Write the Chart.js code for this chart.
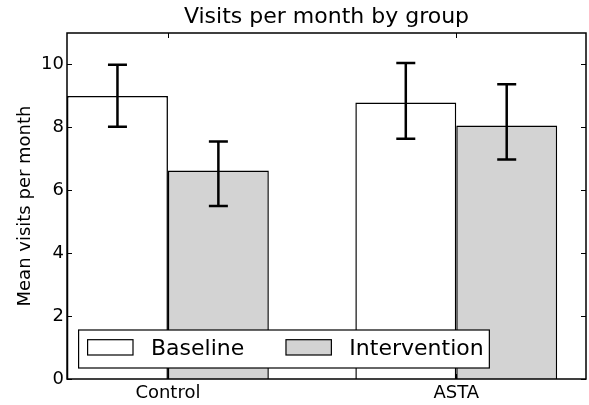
<!DOCTYPE html>
<html>
<head>
<meta charset="utf-8">
<script src="https://cdn.jsdelivr.net/npm/chart.js@4.4.1/dist/chart.umd.min.js"></script>
<style>
  body { margin: 0; background: #fff; }
</style>
</head>
<body>
<canvas id="grafico" width="589" height="405"></canvas>
<script>
const categories = ['Control', 'ASTA'];
const baseline = [9.0, 8.79];
const baselineLow = [8.02, 7.64];
const baselineHigh = [9.99, 10.05];
const intervention = [6.63, 8.06];
const interventionLow = [5.50, 6.98];
const interventionHigh = [7.55, 9.37];
const yTicks = [0, 2, 4, 6, 8, 10];

Chart.defaults.font.family = "'DejaVu Sans', sans-serif";
Chart.defaults.color = '#000';

function points(values) {
    return values.map((v, i) => ({x: i, y: v}));
}

// error bars from the low/high arrays of each dataset
const errorBars = {
    id: 'errorBars',
    afterDatasetsDraw(chart) {
        const ctx = chart.ctx;
        const y = chart.scales.y;
        ctx.save();
        ctx.strokeStyle = '#000';
        ctx.lineWidth = 2.5;
        chart.data.datasets.forEach((ds, d) => {
            chart.getDatasetMeta(d).data.forEach((bar, i) => {
                const lo = y.getPixelForValue(ds.low[i]);
                const hi = y.getPixelForValue(ds.high[i]);
                ctx.beginPath();
                ctx.moveTo(bar.x, lo); ctx.lineTo(bar.x, hi);
                ctx.moveTo(bar.x - 9.5, lo); ctx.lineTo(bar.x + 9.5, lo);
                ctx.moveTo(bar.x - 9.5, hi); ctx.lineTo(bar.x + 9.5, hi);
                ctx.stroke();
            });
        });
        ctx.restore();
    }
};

// box round the plot with inward ticks
const frame = {
    id: 'frame',
    afterDatasetsDraw(chart) {
        const ctx = chart.ctx;
        const a = chart.chartArea;
        const xs = chart.scales.x, ys = chart.scales.y;
        ctx.save();
        ctx.strokeStyle = '#000';
        ctx.lineWidth = 1.5;
        ctx.strokeRect(a.left, a.top, a.right - a.left, a.bottom - a.top);
        ctx.lineWidth = 1;
        ctx.beginPath();
        ys.ticks.forEach(t => {
            const py = Math.round(ys.getPixelForValue(t.value)) + 0.5;
            ctx.moveTo(a.left, py); ctx.lineTo(a.left + 5, py);
            ctx.moveTo(a.right, py); ctx.lineTo(a.right - 5, py);
        });
        xs.ticks.forEach(t => {
            const px = Math.round(xs.getPixelForValue(t.value)) + 0.5;
            ctx.moveTo(px, a.top); ctx.lineTo(px, a.top + 5);
            ctx.moveTo(px, a.bottom); ctx.lineTo(px, a.bottom - 5);
        });
        ctx.stroke();
        ctx.restore();
    }
};

// legend in the lower left corner of the plot
const boxLegend = {
    id: 'boxLegend',
    afterDraw(chart) {
        const ctx = chart.ctx;
        const a = chart.chartArea;
        const sets = chart.data.datasets;
        ctx.save();
        ctx.font = "22px 'DejaVu Sans'";
        const widths = sets.map(ds => ctx.measureText(ds.label).width);
        const w = 9 + (45.4 + 18) * sets.length + widths.reduce((s, v) => s + v, 0) + 41.7 * (sets.length - 1) + 5.7;
        const h = 38;
        const left = a.left + 11.6;
        const top = a.bottom - 11 - h;
        ctx.fillStyle = '#fff';
        ctx.fillRect(left, top, w, h);
        ctx.strokeStyle = '#000';
        ctx.lineWidth = 1.2;
        ctx.strokeRect(left, top, w, h);
        let x = left + 9;
        sets.forEach((ds, i) => {
            ctx.fillStyle = ds.backgroundColor;
            ctx.fillRect(x, top + 9.7, 45.4, 15.3);
            ctx.strokeRect(x, top + 9.7, 45.4, 15.3);
            x += 45.4 + 18;
            ctx.fillStyle = '#000';
            ctx.textBaseline = 'alphabetic';
            ctx.fillText(ds.label, x, top + 25);
            x += widths[i] + 41.7;
        });
        ctx.restore();
    }
};

let graficaVisitas = document.getElementById('grafico').getContext('2d');
let parametrosVisitas = {
    type: 'bar',
    data: {
        datasets: [
            {
                label: 'Baseline',
                backgroundColor: '#ffffff',
                borderColor: '#000000',
                borderWidth: 1.5,
                data: points(baseline),
                low: baselineLow,
                high: baselineHigh
            },
            {
                label: 'Intervention',
                backgroundColor: '#d3d3d3',
                borderColor: '#000000',
                borderWidth: 1.5,
                data: points(intervention),
                low: interventionLow,
                high: interventionHigh
            }
        ]
    },
    options: {
        responsive: false,
        animation: false,
        devicePixelRatio: 1,
        categoryPercentage: 0.7,
        barPercentage: 1.0,
        layout: { padding: { left: 0, right: 3, top: 0, bottom: 0 } },
        plugins: {
            legend: { display: false },
            tooltip: { enabled: false },
            title: {
                display: true,
                fullSize: false,
                text: 'Visits per month by group',
                font: { size: 22, weight: 'normal' },
                color: '#000',
                padding: { top: 4.2, bottom: 2.4 }
            }
        },
        scales: {
            x: {
                type: 'linear',
                offset: false,
                min: -0.35,
                max: 1.45,
                grid: { display: false, drawTicks: false },
                border: { display: false },
                afterBuildTicks: scale => { scale.ticks = categories.map((c, i) => ({value: i})); },
                afterFit: scale => { scale.height = 26; },
                ticks: {
                    padding: 4,
                    font: { size: 18 },
                    color: '#000',
                    maxRotation: 0,
                    callback: v => categories[v]
                }
            },
            y: {
                min: 0,
                max: 11,
                grid: { display: false, drawTicks: false },
                border: { display: false },
                afterBuildTicks: scale => { scale.ticks = yTicks.map(v => ({value: v})); },
                afterFit: scale => { scale.width = 67; },
                ticks: {
                    padding: 3,
                    font: { size: 18 },
                    color: '#000'
                },
                title: {
                    display: true,
                    text: 'Mean visits per month',
                    font: { size: 18 },
                    color: '#000',
                    padding: { top: 15, bottom: 0 }
                }
            }
        }
    },
    plugins: [errorBars, frame, boxLegend]
};
var visitas = new Chart(graficaVisitas, parametrosVisitas);
</script>
</body>
</html>
